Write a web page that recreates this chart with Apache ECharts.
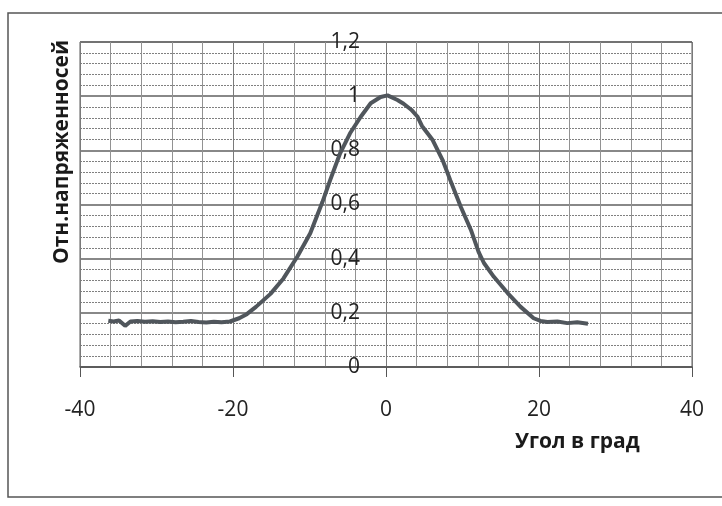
<!DOCTYPE html>
<html>
<head>
<meta charset="utf-8">
<script src="https://cdn.jsdelivr.net/npm/echarts@6/dist/echarts.min.js"></script>
<style>
  html, body { margin: 0; padding: 0; background: #fff; }
  #main { width: 722px; height: 506px; }
</style>
</head>
<body>
<div id="main"></div>
<script>
// угол, град
const angles = [-36.3, -35.6, -34.9, -34.1, -33.4, -32.5, -31.5, -30.5, -29.5, -28.5, -27.5, -26.5, -25.5, -24.5, -23.5, -22.5, -21.5, -20.4,
  -19.2, -18.2, -17.0, -15.1, -13.4, -11.6, -9.9, -8.3, -7.3, -6.0, -4.7, -3.3, -2.0, -0.7, 0.2,
  1.5, 2.3, 3.3, 4.1, 4.7, 6.1, 7.4, 8.4, 9.8, 11.1, 12.1, 12.8, 14.1, 15.9, 17.6, 19.3, 20.2, 21.1, 22.4, 23.7, 25.0, 26.4];
// отн. напряженность
const values = [0.171, 0.168, 0.172, 0.152, 0.168, 0.170, 0.167, 0.169, 0.166, 0.168, 0.165, 0.167, 0.170, 0.166, 0.164, 0.167, 0.165, 0.168,
  0.180, 0.195, 0.222, 0.270, 0.327, 0.407, 0.494, 0.610, 0.690, 0.789, 0.863, 0.924, 0.974, 0.997, 1.003,
  0.986, 0.972, 0.950, 0.925, 0.890, 0.838, 0.764, 0.690, 0.590, 0.506, 0.425, 0.384, 0.333, 0.273, 0.222, 0.180, 0.170, 0.166, 0.168, 0.162, 0.165, 0.160];

const xTicks = [-40, -20, 0, 20, 40];
const yTicks = [0, 0.2, 0.4, 0.6, 0.8, 1, 1.2];

const points = angles.map((a, i) => [a, values[i]]);

const gridLeft = 80, gridRight = 30;
const W = 722;
// y axis sits on x = 0, half way across the value range
const yAxisShift = (W - gridLeft - gridRight) * (0 - xTicks[0]) / (xTicks[xTicks.length - 1] - xTicks[0]);

const chart = echarts.init(document.getElementById('main'), null, { renderer: 'canvas' });

const font = '"Open Sans", "DejaVu Sans", sans-serif';

chart.setOption({
  animation: false,
  backgroundColor: '#fff',
  grid: {
    left: gridLeft, right: gridRight, top: 42, bottom: 139,
    show: true, borderColor: '#5a5a5a', borderWidth: 1
  },
  xAxis: {
    type: 'value',
    min: xTicks[0], max: xTicks[xTicks.length - 1], interval: 20,
    axisLine: { onZero: false, lineStyle: { color: '#555', width: 1.5 } },
    axisTick: { show: true, length: 10, lineStyle: { color: '#555' } },
    minorTick: { show: false, splitNumber: 5 },
    axisLabel: { margin: 33, fontFamily: font, fontSize: 21, color: '#222' },
    splitLine: { show: true, lineStyle: { color: '#7a7a7a', width: 1 } },
    minorSplitLine: { show: true, lineStyle: { color: '#929292', width: 1 } }
  },
  yAxis: {
    type: 'value',
    position: 'left',
    offset: -yAxisShift,
    min: yTicks[0], max: yTicks[yTicks.length - 1], interval: 0.2,
    axisLine: { show: true, onZero: false, lineStyle: { color: '#7a7a7a', width: 1 } },
    axisTick: { show: false },
    minorTick: { show: false, splitNumber: 5 },
    axisLabel: {
      margin: 26, fontFamily: font, fontSize: 21, color: '#222',
      formatter: v => String(Math.round(v * 10) / 10).replace('.', ',')
    },
    splitLine: { show: true, lineStyle: { color: '#606060', width: 1.5 } },
    minorSplitLine: { show: true, lineStyle: { color: '#808080', width: 1, type: [2, 1] } }
  },
  series: [{
    type: 'line',
    data: points,
    showSymbol: false,
    smooth: false,
    lineStyle: { color: '#50565c', width: 4 }
  }],
  graphic: [
    {
      type: 'rect', silent: true, z: -1,
      shape: { x: 8, y: 13, width: 730, height: 484 },
      style: { fill: 'none', stroke: '#555', lineWidth: 1.5 }
    },
    {
      type: 'text', x: 62, y: 152, rotation: Math.PI / 2,
      style: {
        text: 'Отн.напряженносей', font: 'bold 21px ' + font,
        fill: '#1a1a1a', align: 'center', verticalAlign: 'middle'
      }
    },
    {
      type: 'text', x: 515, y: 442,
      style: {
        text: 'Угол в град', font: 'bold 21px ' + font,
        fill: '#1a1a1a', align: 'left', verticalAlign: 'middle'
      }
    }
  ]
});
</script>
</body>
</html>
